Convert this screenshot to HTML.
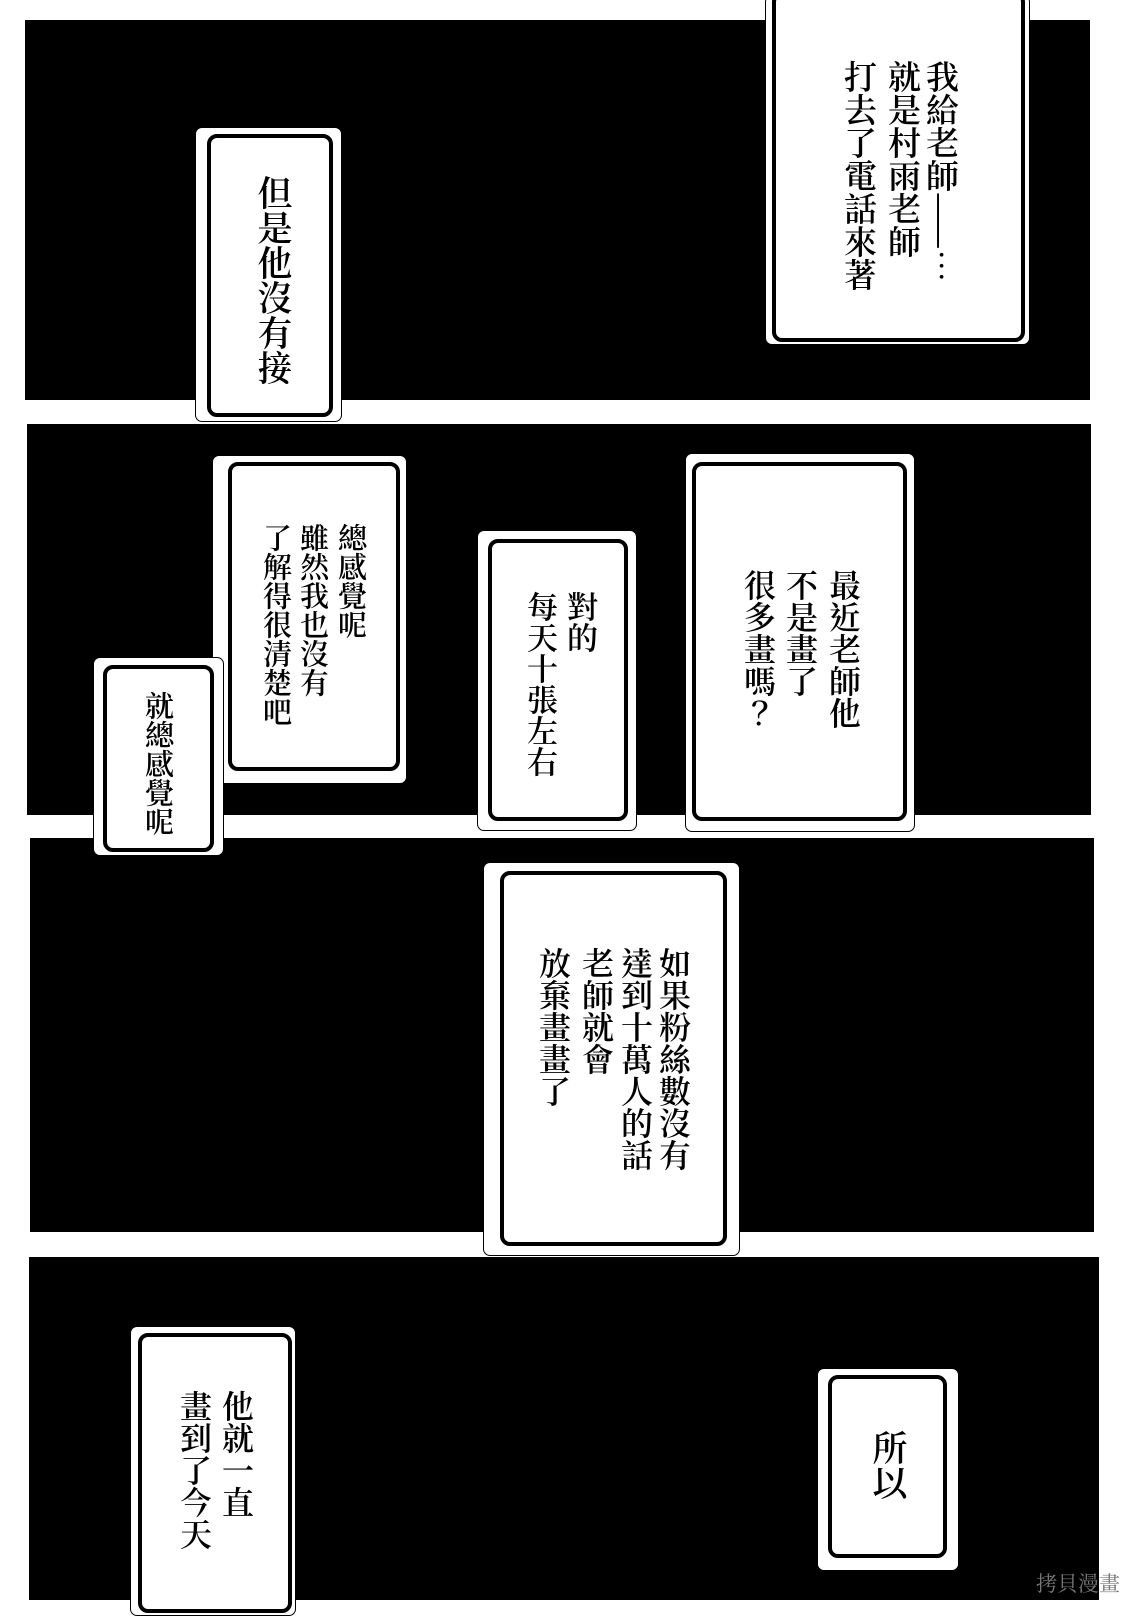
<!DOCTYPE html>
<html><head><meta charset="utf-8"><style>
html,body{margin:0;padding:0;background:#fff;overflow:hidden;width:1125px;height:1600px}
.p{position:absolute;background:#000}
.o{position:absolute;background:#fff;border-radius:7px;border:1px solid #000;box-sizing:border-box}
.i{position:absolute;border:4px solid #000;border-radius:10px;background:#fff;box-sizing:border-box}
.t{position:absolute;writing-mode:vertical-rl;font-family:"Noto Serif CJK TC","Noto Serif CJK SC","Noto Sans CJK TC",serif;font-weight:600;color:#000;line-height:1;white-space:nowrap}
</style></head><body>
<div class="p" style="left:25px;top:20px;width:1065px;height:380px"></div>
<div class="p" style="left:27px;top:424px;width:1064px;height:391px"></div>
<div class="p" style="left:30px;top:838px;width:1064px;height:394px"></div>
<div class="p" style="left:29px;top:1257px;width:1070px;height:343px"></div>

<div class="o" style="left:765px;top:-5px;width:265px;height:350px"></div>
<div class="i" style="left:772px;top:-8px;width:253px;height:350px"></div>
<div class="t" style="left:926px;top:60px;font-size:33px">我給老師——…</div>
<div class="t" style="left:888px;top:60px;font-size:33px">就是村雨老師</div>
<div class="t" style="left:844px;top:60px;font-size:33px">打去了電話來著</div>

<div class="o" style="left:195px;top:127px;width:147px;height:295px"></div>
<div class="i" style="left:207px;top:134px;width:126px;height:283px"></div>
<div class="t" style="left:257px;top:175px;font-size:35px">但是他沒有接</div>

<div class="o" style="left:212px;top:455px;width:195px;height:329px"></div>
<div class="i" style="left:228px;top:462px;width:172px;height:309px"></div>
<div class="t" style="left:338px;top:523px;font-size:29px">總感覺呢</div>
<div class="t" style="left:300px;top:523px;font-size:29px">雖然我也沒有</div>
<div class="t" style="left:263px;top:523px;font-size:29px">了解得很清楚吧</div>

<div class="o" style="left:93px;top:657px;width:131px;height:199px"></div>
<div class="i" style="left:103px;top:665px;width:111px;height:187px"></div>
<div class="t" style="left:145px;top:691px;font-size:29px">就總感覺呢</div>

<div class="o" style="left:477px;top:530px;width:160px;height:301px"></div>
<div class="i" style="left:488px;top:539px;width:140px;height:282px"></div>
<div class="t" style="left:567px;top:591px;font-size:31px">對的</div>
<div class="t" style="left:527px;top:591px;font-size:31px">每天十張左右</div>

<div class="o" style="left:685px;top:453px;width:230px;height:379px"></div>
<div class="i" style="left:692px;top:462px;width:215px;height:359px"></div>
<div class="t" style="left:829px;top:569px;font-size:32px">最近老師他</div>
<div class="t" style="left:786px;top:569px;font-size:32px">不是畫了</div>
<div class="t" style="left:744px;top:569px;font-size:32px">很多畫嗎？</div>

<div class="o" style="left:483px;top:862px;width:257px;height:394px"></div>
<div class="i" style="left:500px;top:871px;width:227px;height:375px"></div>
<div class="t" style="left:659px;top:947px;font-size:32px">如果粉絲數沒有</div>
<div class="t" style="left:621px;top:947px;font-size:32px">達到十萬人的話</div>
<div class="t" style="left:582px;top:947px;font-size:32px">老師就會</div>
<div class="t" style="left:539px;top:947px;font-size:32px">放棄畫畫了</div>

<div class="o" style="left:130px;top:1326px;width:166px;height:290px"></div>
<div class="i" style="left:138px;top:1333px;width:154px;height:280px"></div>
<div class="t" style="left:222px;top:1390px;font-size:32px">他就一直</div>
<div class="t" style="left:180px;top:1390px;font-size:32px">畫到了今天</div>

<div class="o" style="left:817px;top:1368px;width:142px;height:203px"></div>
<div class="i" style="left:828px;top:1375px;width:119px;height:183px"></div>
<div class="t" style="left:872px;top:1430px;font-size:35px">所以</div>

<div style="position:absolute;left:1036px;top:1568px;font-family:'Noto Serif CJK TC','Noto Sans CJK SC',sans-serif;font-size:21px;color:#777">拷貝漫畫</div>
</body></html>
